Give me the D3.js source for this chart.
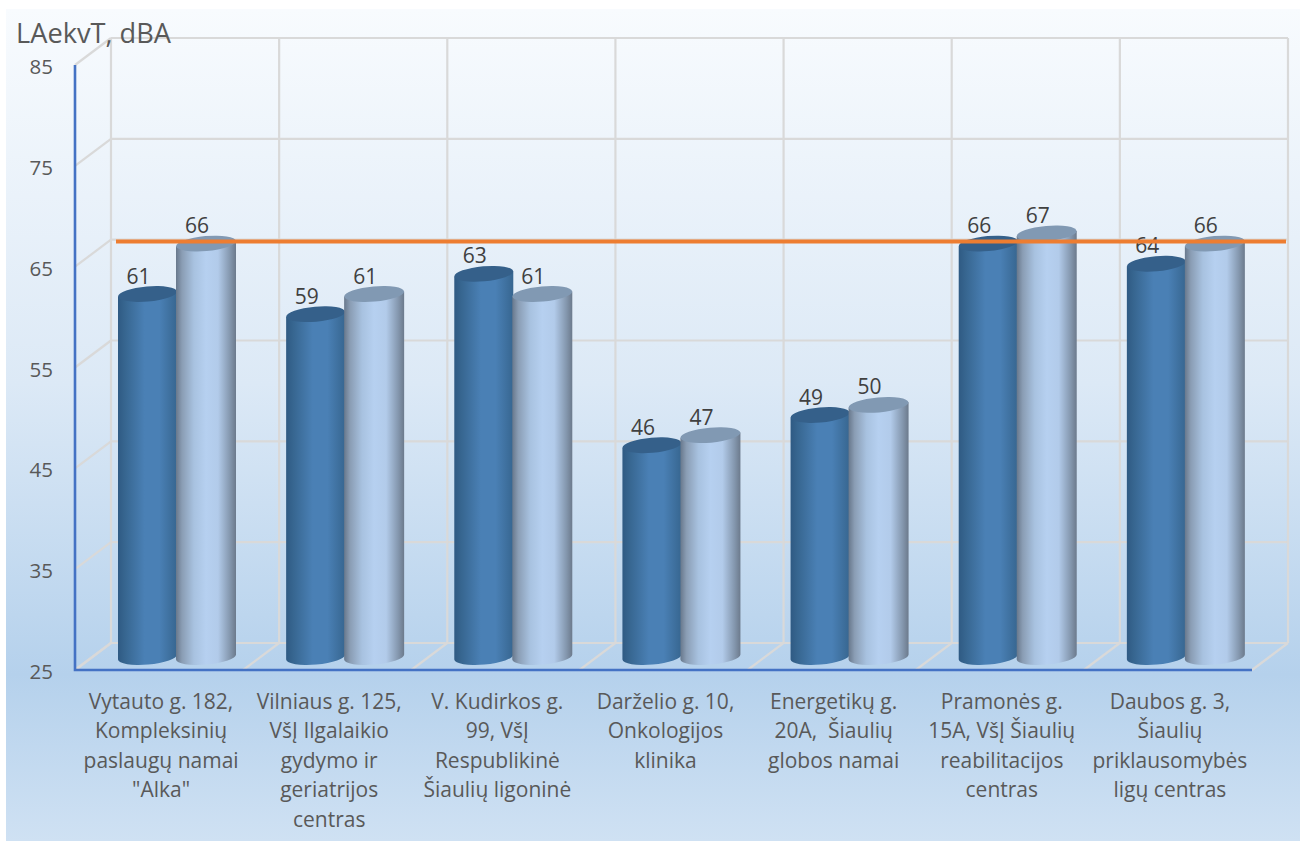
<!DOCTYPE html>
<html><head><meta charset="utf-8">
<script src="https://cdn.jsdelivr.net/npm/d3@7/dist/d3.min.js"></script>
<style>html,body{margin:0;padding:0;background:#fff}svg{display:block}text{font-family:"Open Sans",sans-serif;fill:#595959}</style>
</head><body><svg id="c" width="1300" height="841"></svg>
<script>
const categories = [
 ['Vytauto g. 182,','Kompleksinių','paslaugų namai','"Alka"'],
 ['Vilniaus g. 125,','VšĮ Ilgalaikio','gydymo ir','geriatrijos','centras'],
 ['V. Kudirkos g.','99, VšĮ','Respublikinė','Šiaulių ligoninė'],
 ['Darželio g. 10,','Onkologijos','klinika'],
 ['Energetikų g.','20A,  Šiaulių','globos namai'],
 ['Pramonės g.','15A, VšĮ Šiaulių','reabilitacijos','centras'],
 ['Daubos g. 3,','Šiaulių','priklausomybės','ligų centras']
];
const seriesA = [61,59,63,46,49,66,64];
const seriesB = [66,61,61,47,50,67,66];
const limitValue = 66.2;
const yTicks = [25,35,45,55,65,75,85];
const yTitle = 'LAekvT, dBA';

const svg = d3.select('#c');
const defs = svg.append('defs');
function grad(id,stops,x2,y2){
  const g=defs.append('linearGradient').attr('id',id).attr('x1',0).attr('y1',0).attr('x2',x2).attr('y2',y2);
  stops.forEach(s=>g.append('stop').attr('offset',s[0]).attr('stop-color',s[1]));
}
grad('bg',[[0,'#f8fbfe'],[0.45,'#dce9f6'],[0.8,'#b5d1ec'],[1,'#cfe1f3']],0,1);
grad('dark',[[0,'#2f5a83'],[0.12,'#376690'],[0.45,'#4a80b5'],[0.7,'#4a80b5'],[1,'#376690']],1,0);
grad('light',[[0,'#68788c'],[0.1,'#8a9db4'],[0.3,'#a8c2e0'],[0.5,'#b6d0f0'],[0.7,'#b2cbea'],[0.9,'#8497ae'],[1,'#6c7a8c']],1,0);

svg.append('rect').attr('x',6).attr('y',9).attr('width',1294).attr('height',832).attr('fill','url(#bg)');

const n = categories.length;
const xFront = d3.scaleBand().domain(d3.range(n)).range([75,1252]);
const depthX = 36, depthY = 27;
const yFront = d3.scaleLinear().domain([25,85]).range([670,65]);
const yBack = v => yFront(v)-depthY;
const yBar = d3.scaleLinear().domain([25,85]).range([657,52]);

const grid = svg.append('g').attr('stroke','#d9d9d9').attr('stroke-width',2.2).attr('fill','none');
yTicks.forEach(t=>{
  grid.append('line').attr('x1',75+depthX).attr('x2',1252+depthX).attr('y1',yBack(t)).attr('y2',yBack(t));
  grid.append('line').attr('x1',75).attr('x2',75+depthX).attr('y1',yFront(t)).attr('y2',yBack(t));
});
d3.range(n+1).forEach(i=>{
  const x = 75 + xFront.bandwidth()*i;
  grid.append('line').attr('x1',x+depthX).attr('x2',x+depthX).attr('y1',yBack(85)).attr('y2',yBack(25));
  grid.append('line').attr('x1',x).attr('x2',x+depthX).attr('y1',yFront(25)).attr('y2',yBack(25));
});

svg.append('path').attr('d',`M75,${yFront(85)}V${yFront(25)}H1252`).attr('fill','none').attr('stroke','#4472c4').attr('stroke-width',2.6);

const ry = 7.5, dy = 2.6;
function cyl(g,cx,rx,v,fill,top){
  const yt=yBar(v), yb=yBar(25);
  g.append('path').attr('fill',`url(#${fill})`)
   .attr('d',`M${cx-rx},${yt+dy}L${cx-rx},${yb+dy}A${rx},${ry} -5 0 0 ${cx+rx},${yb-dy}L${cx+rx},${yt-dy}Z`);
  g.append('ellipse').attr('cx',cx).attr('cy',yt).attr('rx',rx).attr('ry',ry)
   .attr('transform',`rotate(-5 ${cx} ${yt})`).attr('fill',top);
}
const bars = svg.append('g');
const labels = svg.append('g').attr('font-size',21).attr('text-anchor','middle').style('fill','#404040');
categories.forEach((c,i)=>{
  const x0 = xFront(i)+43;
  const cA = x0+29.5, cB = x0+88;
  cyl(bars,cA,29.5,seriesA[i],'dark','#35608a');
  cyl(bars,cB,30,seriesB[i],'light','#8199b3');
  labels.append('text').style('fill','#404040').attr('x',cA-9).attr('y',yBar(seriesA[i])-10.5).text(seriesA[i]);
  labels.append('text').style('fill','#404040').attr('x',cB-9).attr('y',yBar(seriesB[i])-10.5).text(seriesB[i]);
});

svg.append('line').attr('x1',116).attr('x2',1286).attr('y1',yBar(limitValue)).attr('y2',yBar(limitValue))
  .attr('stroke','#ed7d31').attr('stroke-width',4);

svg.append('g').attr('font-size',20.5).attr('text-anchor','end').selectAll('text').data(yTicks).join('text')
  .attr('x',53).attr('y',d=>yFront(d)+9).text(d=>d);

const cat = svg.append('g').attr('font-size',21).attr('text-anchor','middle');
categories.forEach((lines,i)=>{
  lines.forEach((l,k)=>{
    cat.append('text').attr('xml:space','preserve').attr('x',xFront(i)+xFront.bandwidth()/2+2).attr('y',709+k*29.4).text(l);
  });
});
svg.append('text').attr('x',16).attr('y',43).attr('font-size',27.2).text(yTitle);
</script></body></html>
